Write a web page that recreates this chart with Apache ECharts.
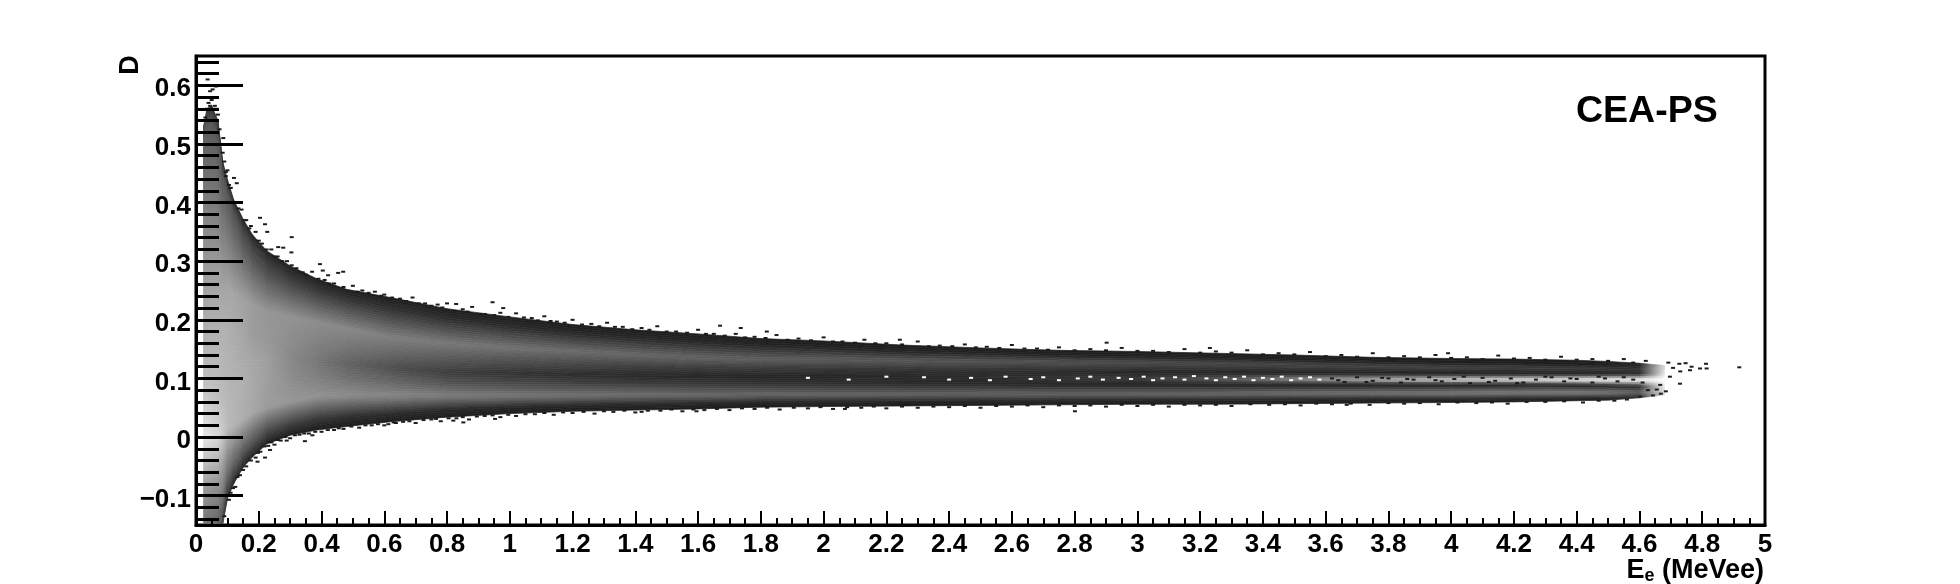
<!DOCTYPE html>
<html>
<head>
<meta charset="utf-8">
<title>CEA-PS</title>
<script src="https://cdn.jsdelivr.net/npm/echarts@6/dist/echarts.min.js"></script>
<style>
  html, body { margin: 0; padding: 0; background: #fff; }
  #chart { width: 1960px; height: 584px; }
</style>
</head>
<body>
<div id="chart"></div>
<script>
// tick labels
var xTicks = ["0","0.2","0.4","0.6","0.8","1","1.2","1.4","1.6","1.8","2","2.2","2.4","2.6","2.8","3","3.2","3.4","3.6","3.8","4","4.2","4.4","4.6","4.8","5"];
var yMajor = [-0.1, 0, 0.1, 0.2, 0.3, 0.4, 0.5, 0.6];
var yMinor = [-0.14,-0.12,-0.08,-0.06,-0.04,-0.02,0.02,0.04,0.06,0.08,0.12,0.14,0.16,0.18,0.22,0.24,0.26,0.28,0.32,0.34,0.36,0.38,0.42,0.44,0.46,0.48,0.52,0.54,0.56,0.58,0.62,0.64];

// columns: energy of each column (MeVee)
var energy = [0.024,0.035,0.05,0.07,0.085,0.1,0.12,0.15,0.18,0.225,0.3,0.385,0.48,0.62,0.8,1,1.2,1.4,1.6,1.8,2,2.25,2.5,2.75,3,3.25,3.5,3.75,4,4.2,4.4,4.5,4.6,4.68];

// D level of the band features in each column, top to bottom
var dTop      = [0.53,0.56,0.565,0.54,0.47,0.44,0.405,0.372,0.345,0.318,0.292,0.27,0.252,0.238,0.219,0.205,0.192,0.183,0.176,0.168,0.164,0.157,0.152,0.148,0.146,0.143,0.14,0.136,0.134,0.133,0.131,0.129,0.126,0.122];
var dRimHi    = [0.5,0.53,0.535,0.51,0.445,0.415,0.38,0.345,0.32,0.295,0.27,0.25,0.235,0.22,0.203,0.19,0.178,0.17,0.163,0.157,0.153,0.147,0.143,0.139,0.137,0.134,0.131,0.128,0.126,0.125,0.123,0.122,0.12,0.118];
var dUpper    = [0.25,0.25,0.25,0.25,0.25,0.25,0.24,0.235,0.225,0.215,0.205,0.195,0.185,0.17,0.16,0.152,0.146,0.14,0.135,0.132,0.132,0.13,0.129,0.128,0.127,0.125,0.123,0.121,0.119,0.118,0.117,0.116,0.115,0.114];
var dCenterHi = [0.17,0.17,0.17,0.17,0.17,0.175,0.18,0.18,0.175,0.17,0.17,0.16,0.155,0.145,0.135,0.13,0.125,0.122,0.118,0.116,0.115,0.113,0.111,0.11,0.109,0.109,0.108,0.108,0.107,0.107,0.107,0.107,0.107,0.107];
var dCenter   = [0.12,0.12,0.12,0.12,0.12,0.125,0.13,0.13,0.13,0.13,0.135,0.13,0.125,0.118,0.109,0.108,0.106,0.105,0.104,0.103,0.103,0.102,0.101,0.1,0.099,0.098,0.098,0.097,0.097,0.097,0.097,0.097,0.097,0.097];
var dCenterLo = [0.07,0.07,0.07,0.07,0.07,0.08,0.085,0.09,0.095,0.1,0.105,0.105,0.1,0.095,0.09,0.09,0.09,0.09,0.09,0.09,0.09,0.09,0.09,0.089,0.089,0.089,0.089,0.089,0.089,0.089,0.088,0.087,0.086,0.084];
var dLower    = [0,0,0,0,0.005,0.015,0.02,0.03,0.04,0.05,0.06,0.068,0.07,0.07,0.07,0.07,0.07,0.071,0.071,0.072,0.072,0.072,0.073,0.073,0.073,0.073,0.074,0.074,0.074,0.075,0.075,0.075,0.076,0.078];
var dRimLo    = [-0.09,-0.09,-0.09,-0.09,-0.09,-0.07,-0.05,-0.03,-0.015,0.005,0.018,0.028,0.034,0.04,0.046,0.05,0.053,0.055,0.056,0.058,0.059,0.06,0.06,0.061,0.062,0.063,0.063,0.064,0.064,0.065,0.066,0.067,0.069,0.074];
var dBottom   = [-0.15,-0.15,-0.15,-0.15,-0.15,-0.105,-0.08,-0.052,-0.034,-0.012,0.003,0.012,0.018,0.026,0.034,0.04,0.044,0.046,0.048,0.051,0.052,0.053,0.054,0.055,0.056,0.056,0.057,0.058,0.059,0.06,0.062,0.063,0.067,0.072];

// gray level (0-255) at those same features
var gTop      = [70,50,45,45,40,40,38,35,32,30,28,28,28,28,28,28,28,28,28,28,28,28,28,28,28,28,28,28,28,28,30,30,35,215];
var gRimHi    = [100,90,85,85,85,85,80,72,66,60,56,54,50,46,42,40,38,37,36,35,34,34,34,34,33,33,32,32,31,31,31,32,40,225];
var gUpper    = [160,165,165,165,165,165,165,160,155,148,145,140,135,126,120,114,108,103,99,95,92,88,84,80,76,72,70,68,66,64,60,56,52,225];
var gCenterHi = [175,178,178,178,178,175,170,165,155,150,140,128,118,104,90,80,72,66,60,56,52,48,44,40,36,34,32,30,30,30,30,32,40,235];
var gCenter   = [185,185,185,185,180,178,175,170,165,158,135,118,98,78,60,50,44,40,38,36,36,38,42,50,60,85,135,175,210,225,240,250,255,255];
var gCenterLo = [200,200,195,190,185,180,178,175,168,158,140,125,112,100,86,76,68,62,56,52,48,44,40,38,36,34,32,32,32,32,32,35,45,235];
var gLower    = [230,228,222,215,200,185,180,172,165,155,150,145,140,134,126,120,115,110,106,103,100,98,98,100,102,105,110,115,120,125,125,120,95,225];
var gRimLo    = [150,150,145,140,125,100,90,80,72,64,55,50,46,44,40,38,38,38,36,36,36,36,36,36,36,36,36,36,38,38,40,46,60,225];
var gBottom   = [120,110,105,95,70,50,40,35,32,30,28,28,28,28,28,28,28,28,28,28,28,28,28,28,28,28,28,28,28,28,28,30,35,215];

// isolated dark counts away from the band
var strayE = [0.037,0.045,0.064,0.053,0.087,0.121,0.13,0.204,0.22,0.227,0.305,0.262,0.278,0.304,0.395,0.404,0.453,0.469,0.421,0.22,0.196,0.347,0.289,0.371,0.613,0.637,0.236,0.945,0.979,0.829,0.852,0.82,0.953,1.67,1.42,1.595,1.736,1.819,2.068,2.902,2.801,2.243,3.231,3.99,3.667,4.812,4.766,4.918,4.814,4.793,4.761,4.729,4.684,4.655,4.668,4.747,4.727,4.692,4.697,4.73,4.707,4.666,4.602,4.643,4.627];
var strayD = [0.61,0.59,0.598,0.593,0.51,0.442,0.433,0.374,0.363,0.35,0.341,0.324,0.323,0.315,0.295,0.284,0.28,0.282,0.276,-0.035,-0.042,-0.007,-0.006,0.003,0.022,0.024,-0.022,0.23,0.22,0.227,0.025,0.028,0.031,0.19,0.043,0.044,0.186,0.18,0.048,0.161,0.044,0.166,0.152,0.143,0.055,0.125,0.12,0.119,0.117,0.117,0.114,0.091,0.078,0.081,0.074,0.126,0.125,0.127,0.103,0.112,0.118,0.089,0.069,0.071,0.08];

// peak of the band at low energy
var peakE = [0.03,0.035,0.04,0.045,0.05,0.055,0.06,0.065,0.07,0.075,0.08,0.085,0.09,0.095,0.1,0.105,0.11];
var peakD = [0.545,0.56,0.57,0.565,0.575,0.56,0.565,0.56,0.55,0.525,0.5,0.485,0.47,0.445,0.455,0.43,0.425];

// rough dark counts just outside the upper and lower edge
var rimHiE = [0.13,0.145,0.16,0.175,0.19,0.21,0.24,0.26,0.29,0.32,0.35,0.37,0.41,0.44,0.5,0.53,0.57,0.6,0.65,0.69,0.73,0.77,0.8,0.85,0.88,0.92,0.97,1.02,1.07,1.11,1.15,1.2,1.26,1.31,1.36,1.42,1.47,1.53,1.6,1.65,1.72,1.78,1.85,1.92,2,2.06,2.13,2.2,2.3,2.37,2.45,2.52,2.6,2.68,2.75,2.85,2.95,3.05,3.15,3.25,3.35,3.45,3.55,3.65,3.75,3.85,3.95,4.05,4.15,4.25,4.35,4.45,4.55,4.62];
var rimHiD = [0.4,0.388,0.37,0.36,0.35,0.33,0.32,0.308,0.3,0.288,0.277,0.282,0.268,0.262,0.258,0.25,0.248,0.243,0.236,0.238,0.228,0.226,0.228,0.218,0.222,0.21,0.212,0.211,0.203,0.206,0.197,0.2,0.193,0.195,0.188,0.186,0.189,0.18,0.183,0.176,0.176,0.171,0.174,0.168,0.17,0.163,0.166,0.16,0.163,0.156,0.158,0.154,0.157,0.151,0.153,0.15,0.152,0.147,0.15,0.146,0.148,0.143,0.145,0.14,0.143,0.138,0.14,0.136,0.139,0.135,0.137,0.133,0.133,0.13];
var rimHi2E = [0.095,0.11,0.135,0.155,0.17,0.2,0.225,0.25,0.275,0.305,0.34,0.39,0.425,0.47,0.515,0.55,0.59,0.625,0.67,0.71,0.75,0.785,0.825,0.865,0.905,0.95,0.995,1.045,1.09,1.13,1.175,1.23,1.285,1.335,1.39,1.445,1.5,1.565,1.625,1.685,1.75,1.815,1.885,1.96,2.03,2.1,2.165,2.25,2.335,2.41,2.485,2.56,2.64,2.715,2.8,2.9,3,3.1,3.2,3.3,3.4,3.5,3.6,3.7,3.8,3.9,4,4.1,4.2,4.3,4.4,4.5,4.58];
var rimHi2D = [0.452,0.425,0.39,0.37,0.356,0.335,0.32,0.308,0.3,0.293,0.281,0.27,0.262,0.256,0.248,0.246,0.241,0.238,0.232,0.228,0.224,0.221,0.215,0.214,0.21,0.208,0.205,0.204,0.199,0.198,0.195,0.192,0.189,0.188,0.184,0.183,0.18,0.178,0.176,0.173,0.17,0.169,0.166,0.165,0.163,0.161,0.16,0.158,0.155,0.155,0.153,0.152,0.151,0.149,0.148,0.148,0.147,0.145,0.144,0.144,0.141,0.141,0.138,0.137,0.136,0.136,0.135,0.133,0.134,0.132,0.132,0.13,0.127];
var rimLoE = [0.11,0.125,0.14,0.16,0.19,0.205,0.23,0.25,0.27,0.3,0.33,0.36,0.4,0.44,0.47,0.52,0.56,0.6,0.66,0.7,0.75,0.78,0.83,0.87,0.92,0.97,1.02,1.08,1.14,1.2,1.27,1.33,1.4,1.48,1.55,1.62,1.7,1.78,1.86,1.95,2.03,2.12,2.2,2.3,2.4,2.5,2.6,2.7,2.8,2.9,3,3.1,3.2,3.3,3.42,3.52,3.62,3.74,3.85,3.96,4.08,4.18,4.3,4.42,4.52];
var rimLoD = [-0.095,-0.085,-0.065,-0.05,-0.035,-0.025,-0.015,-0.013,-0.006,-0.002,0.004,0.006,0.009,0.012,0.014,0.016,0.02,0.02,0.026,0.024,0.03,0.027,0.032,0.03,0.036,0.034,0.036,0.039,0.038,0.041,0.04,0.043,0.042,0.045,0.044,0.046,0.046,0.048,0.047,0.049,0.048,0.05,0.049,0.05,0.051,0.05,0.052,0.051,0.053,0.052,0.053,0.052,0.054,0.053,0.055,0.054,0.056,0.055,0.057,0.056,0.058,0.057,0.06,0.059,0.062];
var rimLo2E = [0.09,0.105,0.118,0.132,0.15,0.175,0.197,0.218,0.24,0.26,0.285,0.315,0.345,0.38,0.42,0.455,0.495,0.54,0.58,0.63,0.68,0.725,0.765,0.805,0.85,0.895,0.945,0.995,1.05,1.11,1.17,1.235,1.3,1.365,1.44,1.515,1.585,1.66,1.74,1.82,1.905,1.99,2.075,2.16,2.25,2.35,2.45,2.55,2.65,2.75,2.85,2.95,3.05,3.15,3.25,3.36,3.47,3.57,3.68,3.8,3.9,4.02,4.13,4.24,4.36,4.47,4.56];
var rimLo2D = [-0.135,-0.107,-0.087,-0.068,-0.056,-0.04,-0.027,-0.016,-0.009,-0.005,0,0.003,0.006,0.009,0.012,0.015,0.018,0.02,0.022,0.025,0.027,0.029,0.031,0.032,0.034,0.035,0.037,0.038,0.039,0.041,0.042,0.043,0.044,0.045,0.045,0.047,0.047,0.048,0.049,0.05,0.05,0.051,0.051,0.052,0.052,0.052,0.053,0.053,0.054,0.054,0.054,0.055,0.055,0.055,0.055,0.056,0.056,0.057,0.057,0.058,0.058,0.059,0.059,0.06,0.061,0.062,0.064];

// empty bins and dark counts inside the central gap at high energy
var gapWhiteE = [1.95,2.08,2.2,2.32,2.4,2.47,2.53,2.58,2.66,2.7,2.75,2.81,2.85,2.89,2.94,2.98,3.02,3.05,3.08,3.12,3.15,3.18,3.22,3.25,3.28,3.31,3.34,3.37,3.4,3.43,3.46,3.49,3.52,3.55,3.58];
var gapWhiteD = [0.101,0.098,0.103,0.102,0.098,0.101,0.097,0.103,0.099,0.102,0.097,0.1,0.103,0.098,0.101,0.099,0.103,0.097,0.1,0.102,0.098,0.104,0.1,0.097,0.102,0.099,0.103,0.097,0.101,0.099,0.103,0.097,0.1,0.102,0.098];
var gapDarkE = [3.62,3.64,3.66,3.7,3.73,3.75,3.78,3.8,3.84,3.86,3.88,3.93,3.95,3.97,4.01,4.04,4.06,4.1,4.12,4.14,4.19,4.21,4.23,4.27,4.3,4.32,4.36,4.38,4.4,4.45,4.47,4.49,4.53,4.55,4.58,4.61];
var gapDarkD = [0.1,0.097,0.094,0.102,0.094,0.096,0.101,0.1,0.093,0.099,0.098,0.102,0.097,0.095,0.099,0.103,0.092,0.101,0.094,0.096,0.1,0.092,0.093,0.098,0.103,0.102,0.095,0.1,0.099,0.093,0.103,0.1,0.095,0.102,0.098,0.093];

var levels = [dTop, dRimHi, dUpper, dCenterHi, dCenter, dCenterLo, dLower, dRimLo, dBottom];
var grays = [gTop, gRimHi, gUpper, gCenterHi, gCenter, gCenterLo, gLower, gRimLo, gBottom];

function zip(a, b) {
  return a.map(function (v, i) { return [v, b[i]]; });
}

function grayColor(g) {
  g = Math.round(g);
  return "rgb(" + g + "," + g + "," + g + ")";
}

// one segment between two columns, cut into thin strips between the features
function renderColumn(params, api) {
  var i = api.value(2);
  var children = [];
  for (var b = 0; b < levels.length - 1; b++) {
    var a0 = api.coord([energy[i], levels[b][i]]);
    var a1 = api.coord([energy[i], levels[b + 1][i]]);
    var c0 = api.coord([energy[i + 1], levels[b][i + 1]]);
    var c1 = api.coord([energy[i + 1], levels[b + 1][i + 1]]);
    var tall = Math.max(a1[1] - a0[1], c1[1] - c0[1]);
    var n = Math.max(1, Math.ceil(tall / 2.5));
    for (var k = 0; k < n; k++) {
      var t0 = k / n;
      var t1 = (k + 1) / n;
      var tm = (k + 0.5) / n;
      var leftGray = grays[b][i] + (grays[b + 1][i] - grays[b][i]) * tm;
      var rightGray = grays[b][i + 1] + (grays[b + 1][i + 1] - grays[b][i + 1]) * tm;
      var fill = new echarts.graphic.LinearGradient(0, 0, 1, 0, [
        { offset: 0, color: grayColor(leftGray) },
        { offset: 1, color: grayColor(rightGray) }
      ]);
      children.push({
        type: "polygon",
        shape: {
          points: [
            [a0[0], a0[1] + (a1[1] - a0[1]) * t0],
            [c0[0], c0[1] + (c1[1] - c0[1]) * t0],
            [c0[0], c0[1] + (c1[1] - c0[1]) * t1],
            [a0[0], a0[1] + (a1[1] - a0[1]) * t1]
          ]
        },
        style: { fill: fill, stroke: fill, lineWidth: 0.7 }
      });
    }
  }
  return { type: "group", children: children };
}

var columnData = energy.slice(0, -1).map(function (e, i) {
  return [e, dCenter[i], i];
});

var font = "'Liberation Sans', Arial, sans-serif";
var chart = echarts.init(document.getElementById("chart"));
chart.setOption({
  animation: false,
  backgroundColor: "#fff",
  title: {
    text: "CEA-PS",
    left: 1571,
    top: 88,
    textStyle: { fontFamily: font, fontWeight: "bold", fontSize: 37.5, color: "#000" }
  },
  graphic: [
    {
      type: "text", x: 131, y: 65, rotation: Math.PI / 2, z: 10,
      style: { text: "D", fontFamily: font, fontWeight: "bold", fontSize: 27, fill: "#000", textAlign: "center", textVerticalAlign: "middle" }
    }
  ],
  grid: {
    left: 196, top: 56, width: 1569, height: 469,
    outerBoundsMode: "none",
    show: true, borderColor: "#000", borderWidth: 3, backgroundColor: "transparent"
  },
  xAxis: {
    type: "value", min: 0, max: 5, interval: 0.2, z: 5,
    name: "{b|E}{s|e}{b| (MeVee)}",
    nameLocation: "end",
    nameGap: -1,
    nameMoveOverlap: false,
    nameTextStyle: {
      align: "right", verticalAlign: "top", padding: [32, 0, 0, 0],
      rich: {
        b: { fontFamily: font, fontWeight: "bold", fontSize: 27, color: "#000" },
        s: { fontFamily: font, fontWeight: "bold", fontSize: 18, color: "#000", verticalAlign: "bottom", padding: [10, 0, 0, 0] }
      }
    },
    axisLine: { show: true, onZero: false, lineStyle: { color: "#000", width: 3 } },
    axisTick: { show: true, inside: true, length: 14, lineStyle: { color: "#000", width: 2 } },
    minorTick: { show: true, splitNumber: 4, length: 7, lineStyle: { color: "#000", width: 2 } },
    splitLine: { show: false },
    minorSplitLine: { show: false },
    axisLabel: {
      margin: 7, color: "#000", fontFamily: font, fontWeight: "bold", fontSize: 26,
      showMinLabel: true, showMaxLabel: true, hideOverlap: false,
      formatter: function (v) { return xTicks[Math.round(v / 0.2)]; }
    }
  },
  yAxis: [
    {
      type: "value", min: -0.15, max: 0.65, z: 5,
      axisLine: { show: true, onZero: false, lineStyle: { color: "#000", width: 3 } },
      axisTick: { show: true, inside: true, length: 47, customValues: yMajor, lineStyle: { color: "#000", width: 3 } },
      splitLine: { show: false },
      axisLabel: {
        margin: 5,
        customValues: yMajor,
        rich: {
          a: { color: "#000", fontFamily: font, fontWeight: "bold", fontSize: 26, padding: [8, 0, 0, 0] }
        },
        formatter: function (v) {
          var s = v < 0 ? "\u2212" + Math.abs(v).toFixed(1) : v === 0 ? "0" : v.toFixed(1);
          return "{a|" + s + "}";
        }
      }
    },
    {
      type: "value", min: -0.15, max: 0.65, z: 5, position: "left",
      axisLine: { show: false, onZero: false },
      axisTick: { show: true, inside: true, length: 23, customValues: yMinor, lineStyle: { color: "#000", width: 3 } },
      splitLine: { show: false },
      axisLabel: { show: false }
    }
  ],
  series: [
    {
      type: "custom", silent: true, clip: true,
      data: columnData,
      encode: { x: 0, y: 1 },
      renderItem: renderColumn,
      z: 2
    },
    {
      type: "scatter", silent: true, symbol: "rect", symbolSize: [4, 2], z: 3,
      itemStyle: { color: "#1c1c1c", opacity: 1 },
      data: zip(strayE, strayD).concat(zip(peakE, peakD), zip(rimHiE, rimHiD), zip(rimHi2E, rimHi2D), zip(rimLoE, rimLoD), zip(rimLo2E, rimLo2D), zip(gapDarkE, gapDarkD))
    },
    {
      type: "scatter", silent: true, symbol: "rect", symbolSize: [4, 2], z: 3,
      itemStyle: { color: "#fff", opacity: 1 },
      data: zip(gapWhiteE, gapWhiteD)
    }
  ]
});
</script>
</body>
</html>
